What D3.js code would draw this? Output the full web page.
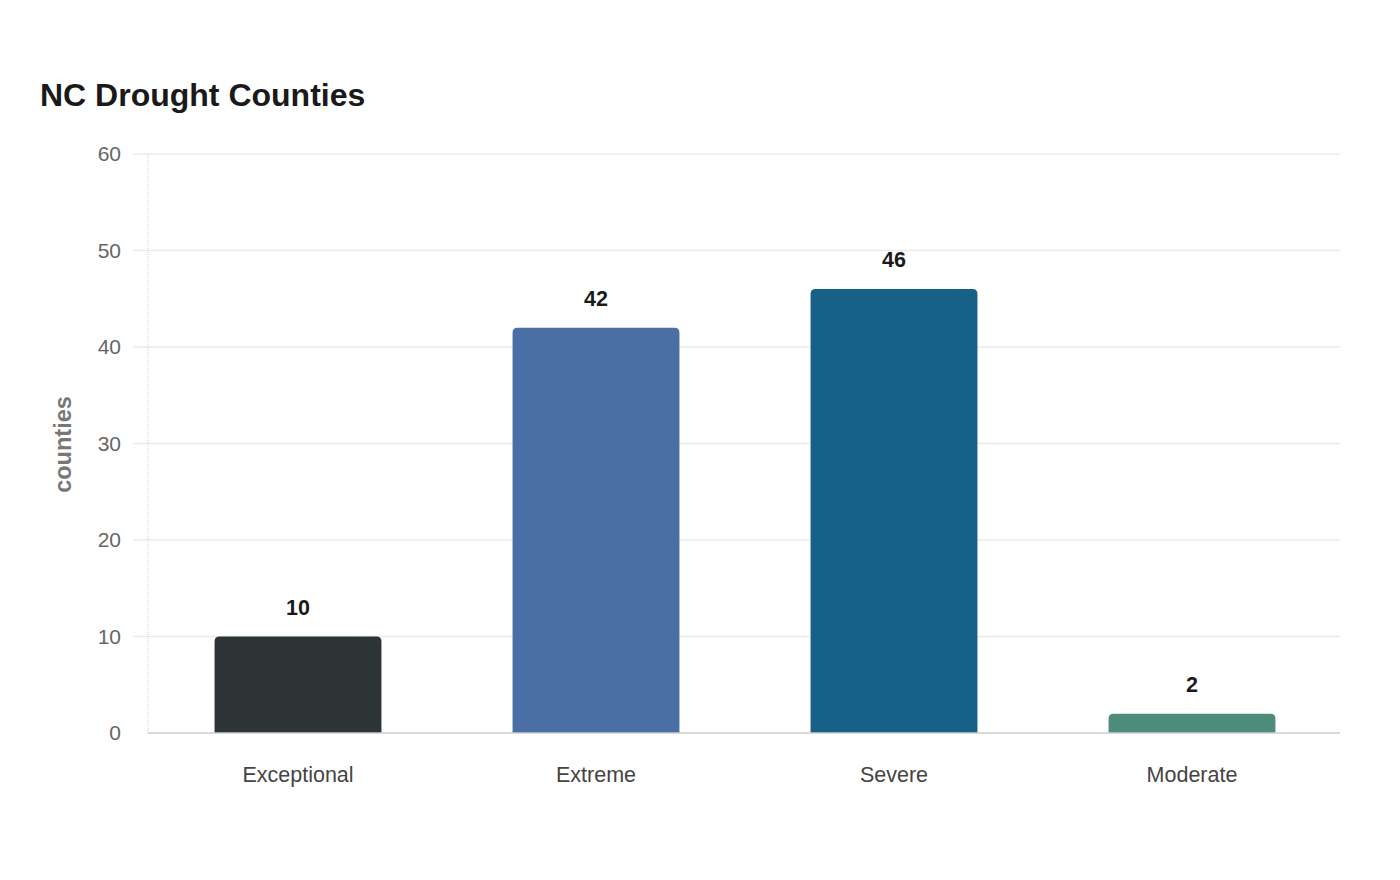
<!DOCTYPE html>
<html>
<head>
<meta charset="utf-8">
<script src="https://cdn.jsdelivr.net/npm/d3@7"></script>
<style>
  body { margin: 0; background: #fff; }
  svg text { font-family: "Liberation Sans", Arial, sans-serif; }
</style>
</head>
<body>
<svg id="chart" width="1400" height="880"></svg>
<script>
// drought levels and county counts
var categories = ["Exceptional", "Extreme", "Severe", "Moderate"];
var counts = [10, 42, 46, 2];
var colors = ["#2d3436", "#4a6fa5", "#176087", "#4d8b7a"];
var yTicks = [0, 10, 20, 30, 40, 50, 60];

(function(d3) {
    var margin = { top: 154, right: 60, bottom: 147, left: 148 };
    var width = 1400 - margin.left - margin.right;
    var height = 880 - margin.top - margin.bottom;

    var svg = d3.select("#chart");

    svg.append("text")
        .attr("x", 40).attr("y", 106)
        .style("font-size", "32px").style("font-weight", "bold")
        .style("fill", "#1a1a1a")
        .text("NC Drought Counties");

    var g = svg.append("g").attr("transform", "translate(" + margin.left + "," + margin.top + ")");

    var x = d3.scaleBand().domain(categories).range([1, width + 1]).paddingInner(0.44).paddingOuter(0.22);
    var y = d3.scaleLinear().domain([0, 60]).range([height, 0]);

    // grid
    g.selectAll(".grid").data(yTicks.filter(function(t) { return t > 0; }))
        .enter().append("line")
        .attr("x1", -15).attr("x2", width)
        .attr("y1", function(d) { return y(d); })
        .attr("y2", function(d) { return y(d); })
        .style("stroke", "#ebebeb").style("stroke-width", 1.5);

    // y axis line (dotted)
    g.append("line")
        .attr("x1", 0).attr("x2", 0).attr("y1", 0).attr("y2", height)
        .style("stroke", "#d0d0d0").style("stroke-dasharray", "1,1");

    // y tick labels
    g.selectAll(".ytick").data(yTicks).enter().append("text")
        .attr("x", -27)
        .attr("y", function(d) { return y(d); })
        .attr("dy", "0.35em")
        .attr("text-anchor", "end")
        .style("font-size", "21px").style("fill", "#666")
        .text(function(d) { return d; });

    // y label
    svg.append("text")
        .attr("transform", "translate(71," + (margin.top + height / 2 + 1) + ") rotate(-90)")
        .attr("text-anchor", "middle")
        .style("font-size", "23.5px").style("font-weight", "bold").style("fill", "#777")
        .text("counties");

    // bars with rounded top corners
    var r = 5;
    var bw = x.bandwidth();
    g.selectAll(".bar").data(counts).enter().append("path")
        .attr("d", function(d, i) {
            var x0 = x(categories[i]), y0 = y(d), y1 = y(0);
            var rr = Math.min(r, (y1 - y0));
            return "M" + x0 + "," + y1 +
                "V" + (y0 + rr) +
                "Q" + x0 + "," + y0 + " " + (x0 + rr) + "," + y0 +
                "H" + (x0 + bw - rr) +
                "Q" + (x0 + bw) + "," + y0 + " " + (x0 + bw) + "," + (y0 + rr) +
                "V" + y1 + "Z";
        })
        .style("fill", function(d, i) { return colors[i]; });

    // baseline
    g.append("line")
        .attr("x1", 0).attr("x2", width).attr("y1", height).attr("y2", height)
        .style("stroke", "#cccccc").style("stroke-width", 1.5);

    // value labels
    g.selectAll(".val").data(counts).enter().append("text")
        .attr("x", function(d, i) { return x(categories[i]) + bw / 2; })
        .attr("y", function(d) { return y(d) - 22; })
        .attr("text-anchor", "middle")
        .style("font-size", "21.5px").style("font-weight", "bold").style("fill", "#1a1a1a")
        .text(function(d) { return d; });

    // category labels
    g.selectAll(".cat").data(categories).enter().append("text")
        .attr("x", function(d) { return x(d) + bw / 2; })
        .attr("y", height + 49)
        .attr("text-anchor", "middle")
        .style("font-size", "21.5px").style("fill", "#444")
        .text(function(d) { return d; });

})(d3);
</script>
</body>
</html>
